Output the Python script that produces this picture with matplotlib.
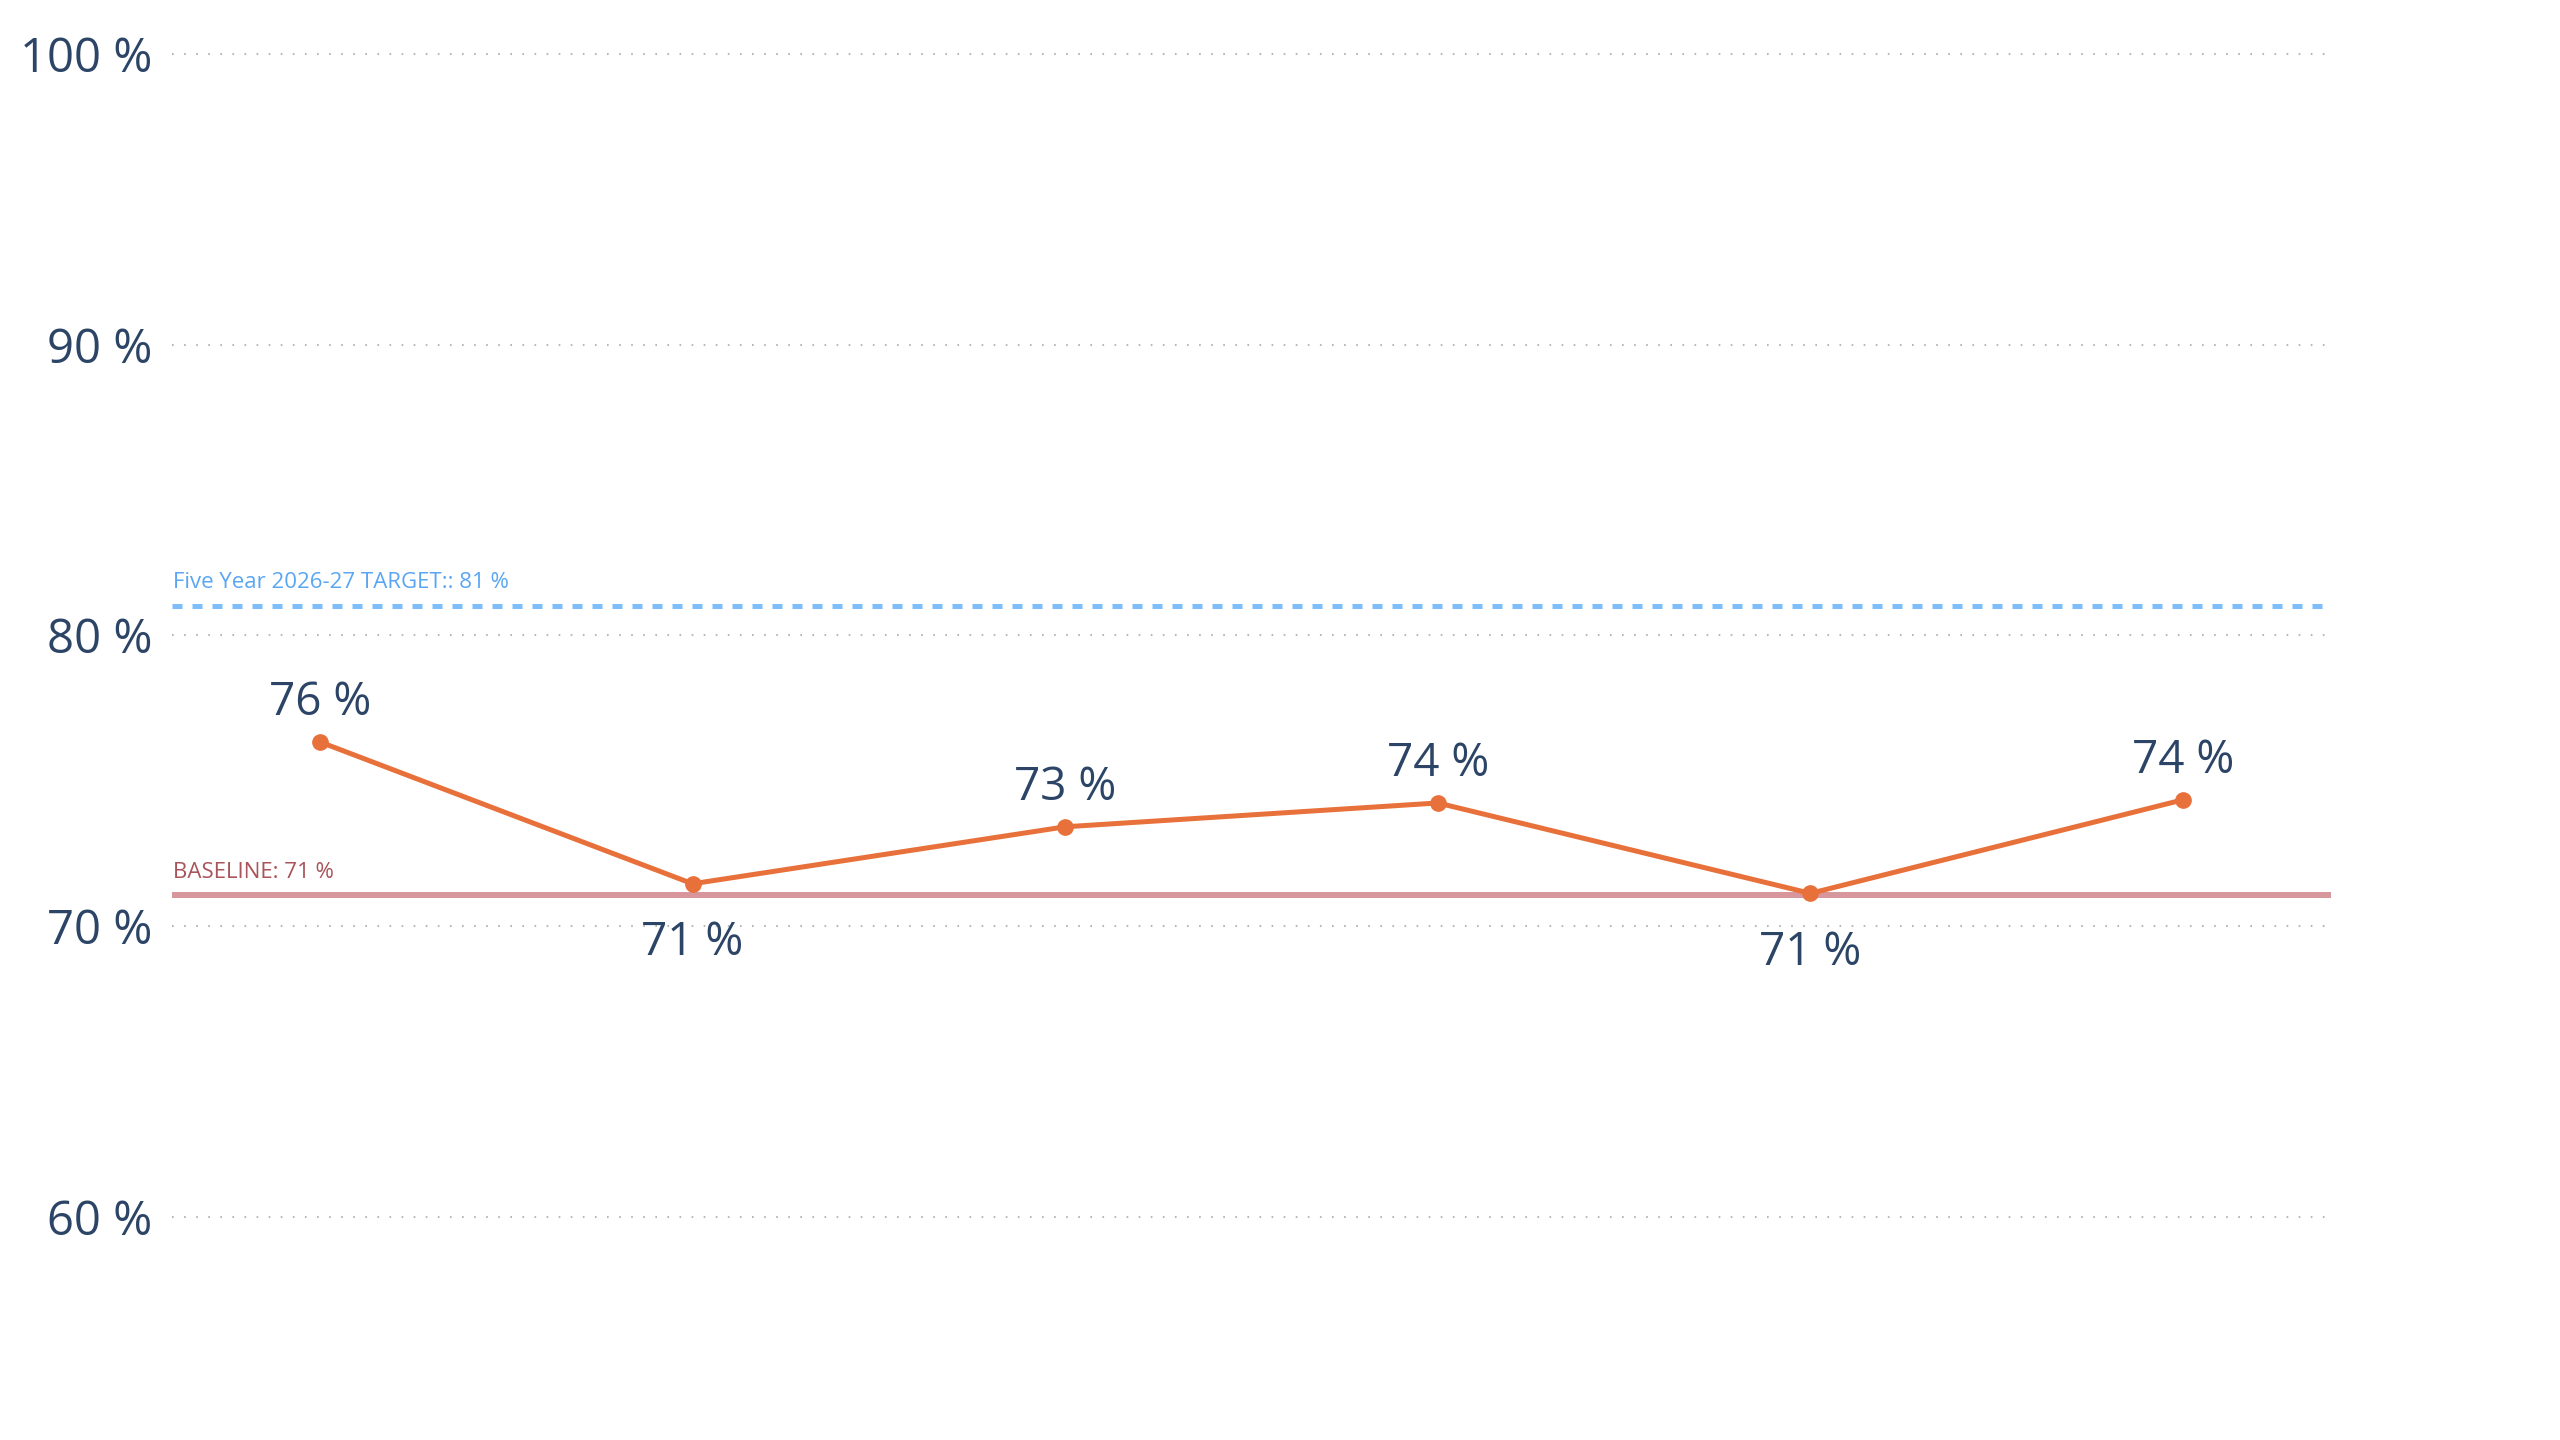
import matplotlib
matplotlib.use("Agg")
import matplotlib.pyplot as plt

plt.rcParams['font.family'] = ['Open Sans', 'DejaVu Sans']

# values
periods = [0, 1, 2, 3, 4, 5]
rates = [76.33, 71.45, 73.41, 74.23, 71.12, 74.34]
label_pos = ['above', 'below', 'above', 'above', 'below', 'above']
target = 81.0
baseline = 71.07
target_text = "Five Year 2026-27 TARGET:: 81 %"
baseline_text = "BASELINE: 71 %"
yticks = [60, 70, 80, 90, 100]

W, H = 2560, 1440
fig = plt.figure(figsize=(W / 100, H / 100), dpi=100)
left, right = 172, 2331
top, bottom = 40, 1420
ax = fig.add_axes([left / W, 1 - bottom / H, (right - left) / W, (bottom - top) / H])

px_per_pct = (1216.6 - 53.9) / 40
ax.set_ylim(60 - (bottom - 1216.6) / px_per_pct, 100 + (53.9 - top) / px_per_pct)
ax.set_xlim(-0.397, 5.397)

for s in ax.spines.values():
    s.set_visible(False)
ax.set_xticks([])
ax.set_yticks(yticks)
ax.set_yticklabels([f"{t} %" for t in yticks])
ax.tick_params(axis='y', length=0, pad=14, labelsize=34, labelcolor='#2C4466')
for t in yticks:
    ax.plot([0, 1], [t, t], transform=ax.get_yaxis_transform(), color='#B8B8B8',
            lw=1.5, ls=(0, (0.8, 5.0)), zorder=1, clip_on=False)

ax.plot([0, 1], [target, target], transform=ax.get_yaxis_transform(), color='#7DBDFA',
        lw=3.6, ls=(0, (2.0, 2.0)), zorder=2, solid_capstyle='butt')
ax.plot([0, 1], [baseline, baseline], transform=ax.get_yaxis_transform(), color='#D6969C',
        lw=4.3, zorder=2)
ax.text(0.0005, target + 0.45, target_text, transform=ax.get_yaxis_transform(),
        fontsize=16, color='#5AA6F2', va='bottom', ha='left')
ax.text(0.0005, baseline + 0.4, baseline_text, transform=ax.get_yaxis_transform(),
        fontsize=16, color='#A8545A', va='bottom', ha='left')

ax.plot(periods, rates, color='#E8703A', lw=3.6, marker='o', markersize=11, zorder=3)
for x, v, p in zip(periods, rates, label_pos):
    off = 28 if p == 'above' else -43
    ax.annotate(f"{round(v)} %", (x, v), xytext=(0, off), textcoords='offset points',
                ha='center', va='center', fontsize=33, color='#2C4466')

fig.savefig("out.png", dpi=100)
